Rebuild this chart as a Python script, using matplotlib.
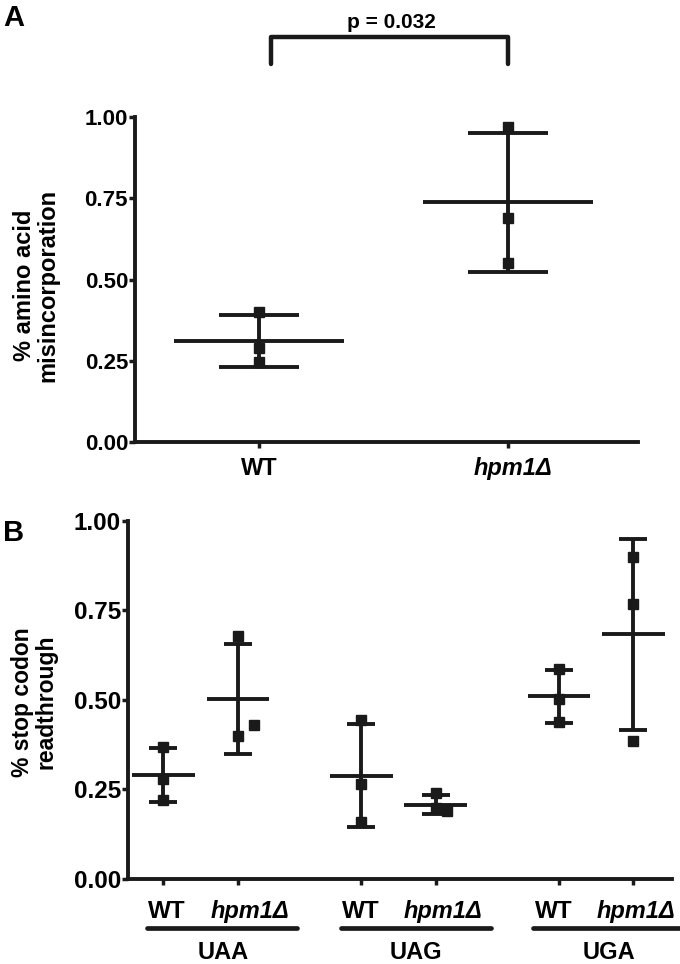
import numpy as np
import matplotlib
matplotlib.use("Agg")
import matplotlib.pyplot as plt

plt.rcParams['font.family'] = ['Liberation Sans', 'DejaVu Sans']
plt.rcParams['font.weight'] = 'bold'

INK = '#1a1a1a'

# panel A: amino acid misincorporation
a_groups = ['WT', 'hpm1Δ']
a_points = [[0.40, 0.29, 0.245], [0.97, 0.69, 0.55]]
a_mean = [0.312, 0.737]
a_sd = [0.080, 0.214]
a_pval = 'p = 0.032'

# panel B: stop codon readthrough (WT, hpm1Δ per codon)
b_codons = ['UAA', 'UAG', 'UGA']
b_strains = ['WT', 'hpm1Δ']
b_points = [[0.37, 0.28, 0.22], [0.68, 0.40, 0.43],
            [0.445, 0.265, 0.158], [0.24, 0.197, 0.19],
            [0.586, 0.504, 0.439], [0.898, 0.767, 0.385]]
b_jitter = [[0, 0, 0], [0, 0, 0.22],
            [0, 0, 0], [0, 0, 0.15],
            [0, 0, 0], [0, 0, 0]]
b_mean = [0.29, 0.503, 0.289, 0.208, 0.51, 0.683]
b_sd = [0.0755, 0.154, 0.145, 0.027, 0.074, 0.266]
yticks = [0.0, 0.25, 0.5, 0.75, 1.0]


def style_axes(ax, fs):
    for s in ['top', 'right']:
        ax.spines[s].set_visible(False)
    for s in ['left', 'bottom']:
        ax.spines[s].set_linewidth(2.8)
        ax.spines[s].set_color(INK)
    ax.set_ylim(0, 1.0)
    ax.set_yticks(yticks)
    ax.set_yticklabels(['%.2f' % v for v in yticks])
    ax.tick_params(axis='y', length=4, width=2.5, color=INK, labelsize=fs, pad=1)
    ax.tick_params(axis='x', length=4, width=2.5, color=INK, labelbottom=False)
    for lab in ax.get_yticklabels():
        lab.set_fontweight('bold')


def draw_group(ax, x, pts, jit, mean, sd, mhalf, capsize):
    ax.errorbar([x], [mean], yerr=[sd], fmt='none', ecolor=INK, elinewidth=2.8,
                capsize=capsize, capthick=2.8, zorder=3)
    ax.hlines(mean, x - mhalf, x + mhalf, color=INK, linewidth=2.8, zorder=3)
    ax.plot(np.array(jit) + x, pts, 's', color=INK, markersize=7, zorder=4)


fig = plt.figure(figsize=(6.8, 9.64), dpi=100)

# ---- panel A
axA = fig.add_axes([0.1985, 0.5415, 0.7397, 0.3371])
style_axes(axA, 16)
xa = np.arange(len(a_groups))
axA.set_xlim(-0.498, 1.522)
axA.set_xticks(xa)
for i in range(len(a_groups)):
    draw_group(axA, xa[i], a_points[i], [0, 0, 0], a_mean[i], a_sd[i], 0.34, 29)
tA = axA.get_xaxis_transform()
axA.text(xa[0], -0.083, a_groups[0], transform=tA, ha='center', va='center',
         fontsize=17, fontweight='bold')
axA.text(xa[1] + 0.02, -0.083, a_groups[1], transform=tA, ha='center', va='center',
         fontsize=17, fontweight='bold', style='italic')
# significance bracket
axA.plot([0.05, 0.05, 1.0, 1.0], [1.163, 1.246, 1.246, 1.163], color=INK,
         linewidth=3.2, clip_on=False, solid_capstyle='round')
axA.text(0.53, 1.29, a_pval, ha='center', va='center', fontsize=15, fontweight='bold')

# ---- panel B
axB = fig.add_axes([0.188, 0.0882, 0.8, 0.3714])
style_axes(axB, 17.5)
xb = []
for g in range(len(b_codons)):
    xb += [g * 8 / 3.0, g * 8 / 3.0 + 1]
xb = np.array(xb)
axB.set_xlim(-0.48, 6.85)
axB.set_xticks(xb)
for i in range(len(xb)):
    draw_group(axB, xb[i], b_points[i], b_jitter[i], b_mean[i], b_sd[i], 0.42, 10)
tB = axB.get_xaxis_transform()
shift = [0.0, -0.06, -0.13]
for g in range(len(b_codons)):
    x0 = g * 8 / 3.0 + shift[g]
    axB.text(x0 + 0.05, -0.092, b_strains[0], transform=tB, ha='center', va='center',
             fontsize=17.5, fontweight='bold')
    axB.text(x0 + 1.16, -0.092, b_strains[1], transform=tB, ha='center', va='center',
             fontsize=17, fontweight='bold', style='italic')
    axB.plot([x0 - 0.22, x0 + 1.8], [-0.137, -0.137], transform=tB, color=INK,
             linewidth=3.4, clip_on=False, solid_capstyle='round')
    axB.text(x0 + 0.8, -0.2235, b_codons[g], transform=tB, ha='center', va='baseline',
             fontsize=17, fontweight='bold')

# axis titles and panel letters
fig.text(0.053, 0.704, '% amino acid\nmisincorporation', rotation=90, ha='center',
         va='center', fontsize=17, fontweight='bold', linespacing=1.05)
fig.text(0.05, 0.272, '% stop codon\nreadthrough', rotation=90, ha='center',
         va='center', fontsize=16.5, fontweight='bold', linespacing=1.05)
fig.text(0.005, 0.996, 'A', ha='left', va='top', fontsize=21, fontweight='bold')
fig.text(0.005, 0.462, 'B', ha='left', va='top', fontsize=21, fontweight='bold')

fig.savefig('out.png', dpi=100)
